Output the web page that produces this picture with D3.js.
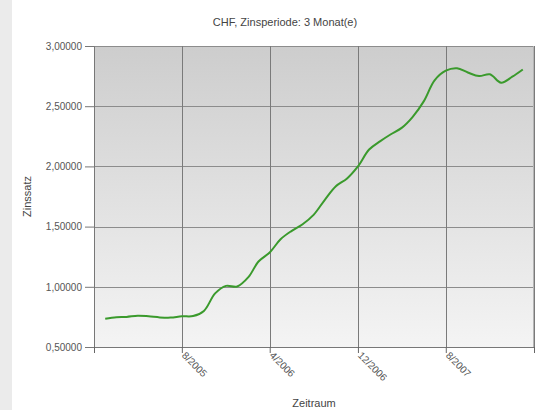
<!DOCTYPE html>
<html>
<head>
<meta charset="utf-8">
<script src="https://cdn.jsdelivr.net/npm/d3@7"></script>
<style>
  body { margin: 0; background: #fff; }
  svg { display: block; font-family: "Liberation Sans", Arial, sans-serif; }
</style>
</head>
<body>
<svg width="537" height="410"></svg>
<script>
// monthly CHF 3-month rate, Jan 2005 .. Mar 2008
var months = ["2005-01","2005-02","2005-03","2005-04","2005-05","2005-06","2005-07","2005-08",
    "2005-09","2005-10","2005-11","2005-12","2006-01","2006-02","2006-03","2006-04","2006-05",
    "2006-06","2006-07","2006-08","2006-09","2006-10","2006-11","2006-12","2007-01","2007-02",
    "2007-03","2007-04","2007-05","2007-06","2007-07","2007-08","2007-09","2007-10","2007-11",
    "2007-12","2008-01","2008-02","2008-03"];
var rates = [0.735, 0.748, 0.750, 0.760, 0.755, 0.746, 0.744, 0.755,
    0.757, 0.800, 0.945, 1.008, 1.003, 1.080, 1.210, 1.285, 1.395,
    1.465, 1.520, 1.600, 1.725, 1.835, 1.900, 2.000, 2.140, 2.210,
    2.265, 2.320, 2.410, 2.540, 2.715, 2.795, 2.815, 2.780, 2.750,
    2.765, 2.695, 2.745, 2.805];
var xTicks = ["2004-12","2005-08","2006-04","2006-12","2007-08","2008-04"];
var xTickLabels = ["", "8/2005", "4/2006", "12/2006", "8/2007", ""];
var yTicks = [0.5, 1.0, 1.5, 2.0, 2.5, 3.0];

var parse = d3.timeParse("%Y-%m");
var data = months.map(function (m, i) {
    return { date: parse(m), value: rates[i] };
});

var svg = d3.select("svg");
var marginLeft = 94, marginTop = 46, width = 440, height = 301;

// grey strip on the left edge
svg.append("rect").attr("x", 0).attr("y", 0).attr("width", 12).attr("height", 410).attr("fill", "#ebebeb");

var grad = svg.append("defs").append("linearGradient")
    .attr("id", "bg").attr("x1", 0).attr("y1", 0).attr("x2", 0).attr("y2", 1);
grad.append("stop").attr("offset", "0%").attr("stop-color", "#cdcdcd");
grad.append("stop").attr("offset", "100%").attr("stop-color", "#f4f4f4");

var x = d3.scaleTime()
    .domain([parse(xTicks[0]), parse(xTicks[xTicks.length - 1])])
    .range([0, width]);
var y = d3.scaleLinear().domain([0.5, 3.0]).range([height, 0]);

var g = svg.append("g").attr("transform", "translate(" + marginLeft + "," + marginTop + ")");

g.append("rect").attr("width", width).attr("height", height).attr("fill", "url(#bg)");

// grid
g.selectAll(".hgrid").data(yTicks).enter().append("line")
    .attr("x1", 0).attr("x2", width)
    .attr("y1", function (d) { return Math.round(y(d)) + 0.5; })
    .attr("y2", function (d) { return Math.round(y(d)) + 0.5; })
    .attr("stroke", "#8c8c8c").attr("stroke-width", 1);
g.selectAll(".vgrid").data(xTicks.slice(1)).enter().append("line")
    .attr("x1", function (d) { return Math.round(x(parse(d))) + 0.5; })
    .attr("x2", function (d) { return Math.round(x(parse(d))) + 0.5; })
    .attr("y1", 0).attr("y2", height)
    .attr("stroke", "#7a7a7a").attr("stroke-width", 1);
g.append("line").attr("x1", width - 0.5).attr("x2", width - 0.5).attr("y1", 0).attr("y2", height)
    .attr("stroke", "#b5b5b5");

// y axis
var yAxis = g.append("g")
    .call(d3.axisLeft(y).tickValues(yTicks).tickSize(9).tickPadding(3)
        .tickFormat(function (d) { return d3.format(".5f")(d).replace(".", ","); }));
yAxis.select(".domain").attr("stroke", "#777");
yAxis.selectAll(".tick line").attr("stroke", "#777");
yAxis.selectAll("text").attr("fill", "#555").style("font-size", "10px");

// x axis
var xAxis = g.append("g").attr("transform", "translate(0," + height + ")")
    .call(d3.axisBottom(x).tickValues(xTicks.map(parse)).tickSize(6)
        .tickFormat(function (d, i) { return xTickLabels[i]; }));
xAxis.select(".domain").attr("stroke", "#777");
xAxis.selectAll(".tick line").attr("stroke", "#666");
xAxis.selectAll("text")
    .attr("fill", "#555").style("font-size", "10px")
    .attr("text-anchor", "start")
    .attr("x", 0).attr("y", 0).attr("dy", "0.3em")
    .attr("transform", "translate(1,7) rotate(45)");

// line
var line = d3.line()
    .x(function (d) { return x(d.date); })
    .y(function (d) { return y(d.value); })
    .curve(d3.curveCatmullRom.alpha(0.5));
g.append("path").datum(data)
    .attr("d", line)
    .attr("fill", "none")
    .attr("stroke", "#3a9a2c")
    .attr("stroke-width", 2);

// titles
svg.append("text").attr("x", 285).attr("y", 26).attr("text-anchor", "middle")
    .attr("fill", "#444").style("font-size", "11px").text("CHF, Zinsperiode: 3 Monat(e)");
svg.append("text").attr("x", marginLeft + width / 2).attr("y", 407).attr("text-anchor", "middle")
    .attr("fill", "#444").style("font-size", "11px").text("Zeitraum");
svg.append("text").attr("transform", "translate(31," + (marginTop + height / 2) + ") rotate(-90)")
    .attr("text-anchor", "middle").attr("fill", "#444").style("font-size", "11px").text("Zinssatz");
</script>
</body>
</html>
